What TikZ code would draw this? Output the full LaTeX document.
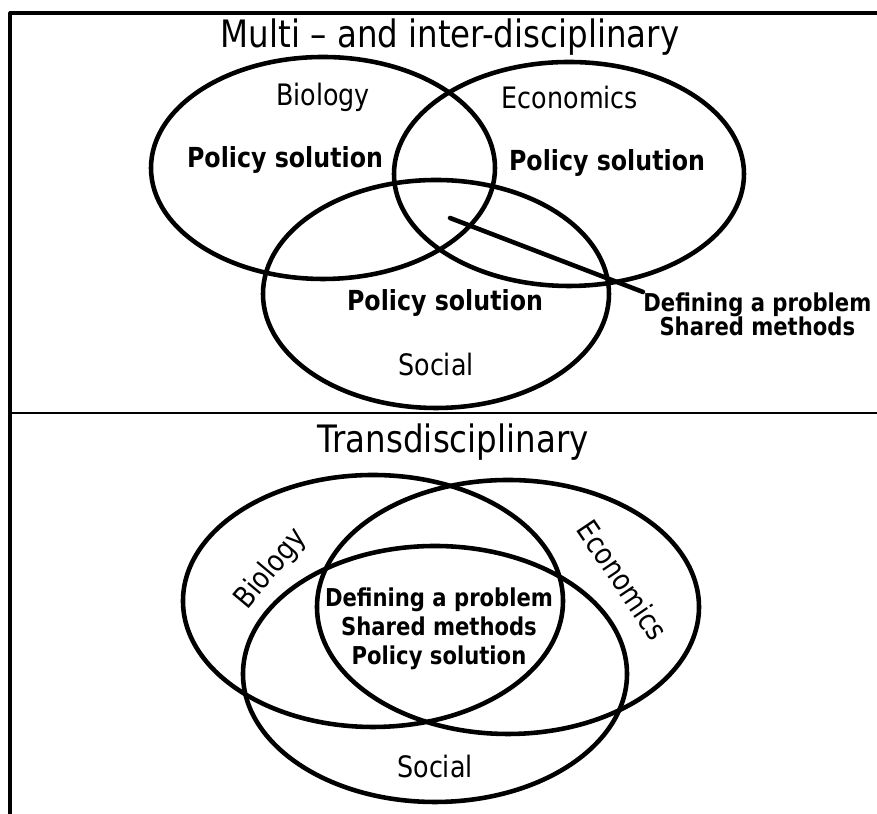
\documentclass[tikz,border=0pt]{standalone}
\usepackage{fontspec}
\setmainfont{DejaVu Sans}[FakeStretch=0.86]
\tikzset{
  ring/.style={line width=2.6pt},
  frameline/.style={line width=1.8pt},
  heading/.style={font=\fontsize{21.5}{24}\selectfont, inner sep=0pt},
  field/.style={font=\fontsize{16.8}{19}\selectfont, inner sep=0pt},
  result/.style={font=\bfseries\fontsize{14}{16.4}\selectfont, inner sep=0pt, align=center},
  bigresult/.style={result, font=\bfseries\fontsize{15.7}{18}\selectfont},
}
\begin{document}
\begin{tikzpicture}[x=0.02cm, y=0.02cm, line join=round, line cap=round]
\useasboundingbox (0,0) rectangle (877,814);
\path
(10,801) coordinate (TL)
(877,801) coordinate (TR)
(10,0) coordinate (BL)
(10,401) coordinate (ML)
(877,401) coordinate (MR)
(323,646) coordinate (bioA)
(569,640) coordinate (ecoA)
(436,520) coordinate (socA)
(373,213) coordinate (bioB)
(508,207) coordinate (ecoB)
(435,140) coordinate (socB)
(450,596) coordinate (core)
;
\draw[frameline] (TR)--(TL)--(BL);
\draw[line width=0.9pt] (ML)--(MR);
% top panel
\foreach \c/\rx/\ry in {bioA/172/111, ecoA/175/112, socA/173/114} \draw[ring] (\c) ellipse[x radius=\rx, y radius=\ry];
\node[heading] (titleA) at (450,777) {Multi -- and inter-disciplinary};
\node[field] (biologyA) at (323,717) {Biology};
\node[field] (economicsA) at (570,716) {Economics};
\node[field] (socialA) at (436,449) {Social};
\node[bigresult] (policyBio) at (285,654) {Policy solution};
\node[bigresult] (policyEco) at (607,651) {Policy solution};
\node[bigresult] (policySoc) at (445,511) {Policy solution};
\node[result, font=\bfseries\fontsize{14}{14.2}\selectfont, anchor=north west] (shared) at (643,522) {Defining a problem\\Shared methods};
\draw[line width=2.6pt] (core)--(shared.north west);
% bottom panel
\foreach \c/\rx/\ry in {bioB/190/126, ecoB/191/127, socB/192/128} \draw[ring] (\c) ellipse[x radius=\rx, y radius=\ry];
\node[heading] (titleB) at (453,372) {Transdisciplinary};
\node[field, rotate=50] (biologyB) at (271,245) {Biology};
\node[field, rotate=-56] (economicsB) at (623,234) {Economics};
\node[field] (socialB) at (435,47) {Social};
\node[result] (allB) at (439,185) {Defining a problem\\Shared methods\\Policy solution};
\end{tikzpicture}
\end{document}
